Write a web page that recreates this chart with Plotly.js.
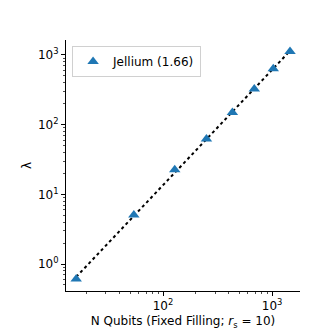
<!DOCTYPE html>
<html>
<head>
<meta charset="utf-8">
<script src="https://cdn.plot.ly/plotly-3.0.1.min.js"></script>
<style>html,body{margin:0;padding:0;background:#fff;}#chart{width:333px;height:333px;}</style>
</head>
<body>
<div id="chart"></div>
<script>
const nQubits = [16, 54, 128, 250, 432, 686, 1024, 1458];
const lambdaVals = [0.61, 5.05, 22.5, 62, 149, 325, 635, 1120];
const seriesName = 'Jellium (1.66)';
const xTickVals = [100, 1000];
const xTickText = ['10<sup>2</sup>', '10<sup>3</sup>'];
const yTickVals = [1, 10, 100, 1000];
const yTickText = ['10<sup>0</sup>', '10<sup>1</sup>', '10<sup>2</sup>', '10<sup>3</sup>'];

// least-squares fit in log-log space
const lx = nQubits.map(Math.log10), ly = lambdaVals.map(Math.log10);
const n = lx.length;
const mx = lx.reduce((a,b)=>a+b,0)/n, my = ly.reduce((a,b)=>a+b,0)/n;
let sxy=0, sxx=0;
for (let i=0;i<n;i++){sxy+=(lx[i]-mx)*(ly[i]-my); sxx+=(lx[i]-mx)**2;}
const slope = sxy/sxx, icpt = my - slope*mx;
const fitY = nQubits.map(x => Math.pow(10, icpt + slope*Math.log10(x)));

const font = {family: 'DejaVu Sans', size: 12, color: '#000'};
const data = [
  {x: nQubits, y: fitY, mode: 'lines', line: {color: '#000', dash: 'dot', width: 2}, showlegend: false, hoverinfo: 'skip'},
  {x: nQubits, y: lambdaVals, mode: 'markers', name: seriesName,
   marker: {symbol: 'triangle-up', size: 10, color: '#1f77b4'}}
];
const axisCommon = {type: 'log', showgrid: false, zeroline: false, showline: true, linecolor: '#000', linewidth: 1,
  ticks: 'outside', ticklen: 4, tickwidth: 1, tickcolor: '#000', mirror: false, tickfont: font,
  minor: {ticks: 'outside', ticklen: 2, tickwidth: 0.7, tickcolor: '#000', showgrid: false, dtick: 'D1'}};
const layout = {
  width: 333, height: 333,
  margin: {l: 66, r: 33, t: 40, b: 42},
  paper_bgcolor: '#fff', plot_bgcolor: '#fff',
  font: font,
  xaxis: Object.assign({}, axisCommon, {
    range: [Math.log10(12.9), Math.log10(1800)],
    tickmode: 'array', tickvals: xTickVals, ticktext: xTickText,
    title: {text: 'N Qubits (Fixed Filling; <i>r</i><sub>s</sub> = 10)', font: font, standoff: 4}
  }),
  yaxis: Object.assign({}, axisCommon, {
    range: [Math.log10(0.41), Math.log10(1640)],
    tickmode: 'array', tickvals: yTickVals, ticktext: yTickText,
    title: {text: 'λ', font: font, standoff: 3}
  }),
  showlegend: true,
  legend: {x: 0.026, y: 0.976, xanchor: 'left', yanchor: 'top', bgcolor: '#fff',
    bordercolor: '#d0d0d0', borderwidth: 1, font: font, itemwidth: 30}
};
Plotly.newPlot('chart', data, layout, {displayModeBar: false, staticPlot: true});
</script>
</body>
</html>
